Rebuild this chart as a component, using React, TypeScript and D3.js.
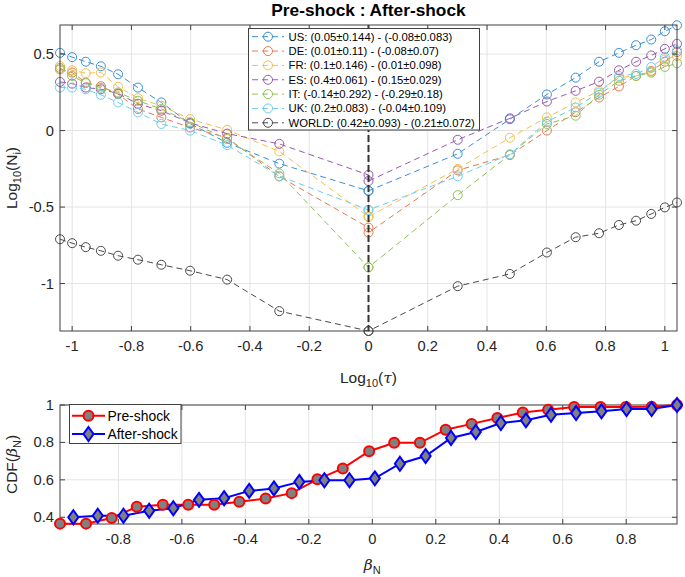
import React from "react";
import * as d3 from "d3";

const TAU = [-1.041, -1, -0.954, -0.903, -0.845, -0.778, -0.699, -0.602, -0.477, -0.301, 0, 0, 0.301, 0.477, 0.602, 0.699, 0.778, 0.845, 0.903, 0.954, 1, 1.041];
const US = [0.508, 0.48, 0.45, 0.42, 0.368, 0.281, 0.184, 0.045, -0.08, -0.216, -0.394, -0.394, -0.152, 0.074, 0.236, 0.346, 0.45, 0.508, 0.558, 0.595, 0.649, 0.688];
const DE = [0.4, 0.379, 0.314, 0.29, 0.238, 0.141, 0.086, 0.02, -0.047, -0.3, -0.634, -0.667, -0.26, -0.16, 0.0, 0.12, 0.216, 0.288, 0.357, 0.39, 0.45, 0.513];
const FR = [0.422, 0.394, 0.375, 0.38, 0.286, 0.212, 0.162, 0.075, 0.005, -0.136, -0.563, -0.563, -0.25, -0.047, 0.086, 0.184, 0.26, 0.346, 0.357, 0.385, 0.465, 0.487];
const ES = [0.318, 0.307, 0.281, 0.27, 0.242, 0.175, 0.13, 0.05, -0.02, -0.087, -0.29, -0.33, -0.06, 0.08, 0.19, 0.26, 0.32, 0.394, 0.45, 0.491, 0.534, 0.567];
const IT = [0.41, 0.357, 0.31, 0.28, 0.249, 0.195, 0.141, 0.054, -0.055, -0.28, -0.894, -0.894, -0.422, -0.158, 0.043, 0.097, 0.234, 0.325, 0.357, 0.379, 0.416, 0.44];
const UK = [0.281, 0.281, 0.27, 0.234, 0.184, 0.119, 0.043, 0.0, -0.095, -0.297, -0.519, -0.519, -0.299, -0.155, 0.058, 0.151, 0.249, 0.357, 0.37, 0.415, 0.48, 0.524];
const WORLD = [-0.71, -0.736, -0.762, -0.786, -0.818, -0.844, -0.877, -0.916, -0.974, -1.18, -1.31, -1.31, -1.017, -0.937, -0.797, -0.697, -0.671, -0.617, -0.589, -0.545, -0.502, -0.47];

const SERIES_NAMES = ["US", "DE", "FR", "ES", "IT", "UK", "WORLD"];
const SERIES_VALUES = [US, DE, FR, ES, IT, UK, WORLD];
const SERIES_LABELS = [
  "US: (0.05\u00b10.144) - (-0.08\u00b10.083)",
  "DE: (0.01\u00b10.11) - (-0.08\u00b10.07)",
  "FR: (0.1\u00b10.146) - (0.01\u00b10.098)",
  "ES: (0.4\u00b10.061) - (0.15\u00b10.029)",
  "IT: (-0.14\u00b10.292) - (-0.29\u00b10.18)",
  "UK: (0.2\u00b10.083) - (-0.04\u00b10.109)",
  "WORLD: (0.42\u00b10.093) - (0.21\u00b10.072)",
];
const SERIES_COLORS = ["#3a8fd6", "#e57a50", "#f3c04e", "#9a5aae", "#8fc154", "#6ccdf2", "#4a4a4a"];

const TOP_XTICKS = [-1, -0.8, -0.6, -0.4, -0.2, 0, 0.2, 0.4, 0.6, 0.8, 1];
const TOP_YTICKS = [-1, -0.5, 0, 0.5];

const PRE_X = [-0.984, -0.902, -0.821, -0.742, -0.66, -0.58, -0.498, -0.419, -0.336, -0.254, -0.173, -0.093, -0.01, 0.069, 0.15, 0.231, 0.313, 0.394, 0.474, 0.554, 0.636, 0.719, 0.799, 0.88, 0.96];
const PRE_Y = [0.366, 0.366, 0.396, 0.456, 0.467, 0.467, 0.467, 0.483, 0.5, 0.529, 0.603, 0.661, 0.753, 0.798, 0.798, 0.868, 0.899, 0.93, 0.96, 0.975, 0.989, 0.989, 0.989, 0.99, 1.0];
const POST_X = [-0.942, -0.865, -0.784, -0.703, -0.627, -0.546, -0.467, -0.388, -0.31, -0.23, -0.151, -0.072, 0.008, 0.087, 0.168, 0.248, 0.326, 0.405, 0.484, 0.563, 0.642, 0.722, 0.801, 0.88, 0.96];
const POST_Y = [0.4, 0.408, 0.408, 0.435, 0.448, 0.493, 0.502, 0.541, 0.554, 0.589, 0.598, 0.598, 0.608, 0.686, 0.727, 0.824, 0.856, 0.904, 0.918, 0.948, 0.957, 0.966, 0.978, 0.978, 1.0];

const BOT_XTICKS = [-0.8, -0.6, -0.4, -0.2, 0, 0.2, 0.4, 0.6, 0.8];
const BOT_YTICKS = [0.4, 0.6, 0.8, 1];

const FONT = "'Liberation Sans', Arial, Helvetica, sans-serif";
const AX = "#404040";
const GRID = "#e4e4e4";

function fmt(v: number) {
  if (v === 0) return "0";
  return String(v);
}

export default function App() {
  const L = 60, R = 677;
  const tTop = 25, tBot = 331;
  const bTop = 405, bBot = 524;

  const xT = d3.scaleLinear().domain([-1.041, 1.041]).range([L, R]);
  const yT = d3.scaleLinear().domain([-1.31, 0.69]).range([tBot, tTop]);
  const xB = d3.scaleLinear().domain([-0.984, 0.96]).range([L, R]);
  const yB = d3.scaleLinear().domain([0.364, 1]).range([bBot, bTop]);

  const lineT = d3.line<number>().x((_, i) => xT(TAU[i])).y((d) => yT(d));
  const preLine = d3.line<number>().x((_, i) => xB(PRE_X[i])).y((d) => yB(d));
  const postLine = d3.line<number>().x((_, i) => xB(POST_X[i])).y((d) => yB(d));

  const tick = 5;
  const fs = 14.7;

  const diamond = (cx: number, cy: number, r: number) =>
    `M${cx},${cy - r}L${cx + r * 0.72},${cy}L${cx},${cy + r}L${cx - r * 0.72},${cy}Z`;

  return (
    <svg width={685} height={577} style={{ position: "absolute", left: 0, top: 0, background: "#fff" }} fontFamily={FONT}>
      <rect x={0} y={0} width={685} height={577} fill="#fff" />
      {/* ===== TOP PANEL ===== */}
      {TOP_XTICKS.map((t) => (
        <line key={"gx" + t} x1={xT(t)} x2={xT(t)} y1={tTop} y2={tBot} stroke={GRID} strokeWidth={1} />
      ))}
      {TOP_YTICKS.map((t) => (
        <line key={"gy" + t} x1={L} x2={R} y1={yT(t)} y2={yT(t)} stroke={GRID} strokeWidth={1} />
      ))}
      {SERIES_VALUES.map((vals, si) => (
        <g key={SERIES_NAMES[si]}>
          <path d={lineT(vals) || ""} fill="none" stroke={SERIES_COLORS[si]} strokeWidth={1} strokeDasharray="6,4" />
          {vals.map((v, i) => (
            <circle key={i} cx={xT(TAU[i])} cy={yT(v)} r={4.5} fill="none" stroke={SERIES_COLORS[si]} strokeWidth={1} />
          ))}
        </g>
      ))}
      <line x1={xT(0)} x2={xT(0)} y1={tTop} y2={tBot} stroke="#333" strokeWidth={2} strokeDasharray="7,3" />
      <rect x={L} y={tTop} width={R - L} height={tBot - tTop} fill="none" stroke={AX} strokeWidth={1} />
      {TOP_XTICKS.map((t) => (
        <g key={"tx" + t}>
          <line x1={xT(t)} x2={xT(t)} y1={tBot} y2={tBot - tick} stroke={AX} />
          <line x1={xT(t)} x2={xT(t)} y1={tTop} y2={tTop + tick} stroke={AX} />
          <text x={xT(t)} y={tBot + 20} fontSize={fs} textAnchor="middle" fill="#262626">{fmt(t)}</text>
        </g>
      ))}
      {TOP_YTICKS.map((t) => (
        <g key={"ty" + t}>
          <line x1={L} x2={L + tick} y1={yT(t)} y2={yT(t)} stroke={AX} />
          <line x1={R} x2={R - tick} y1={yT(t)} y2={yT(t)} stroke={AX} />
          <text x={L - 6} y={yT(t) + 5} fontSize={fs} textAnchor="end" fill="#262626">{fmt(t)}</text>
        </g>
      ))}
      <text x={(L + R) / 2} y={16} fontSize={17.3} fontWeight="bold" textAnchor="middle" fill="#000">Pre-shock : After-shock</text>
      <text x={(L + R) / 2} y={383} fontSize={15.5} textAnchor="middle" fill="#262626">
        Log<tspan fontSize={11} dy={4}>10</tspan><tspan dy={-4}>(</tspan><tspan fontStyle="italic" fontFamily="'DejaVu Serif', serif">τ</tspan>)
      </text>
      <text transform={`translate(17,${(tTop + tBot) / 2}) rotate(-90)`} fontSize={15.5} textAnchor="middle" fill="#262626">
        Log<tspan fontSize={11} dy={4}>10</tspan><tspan dy={-4}>(N</tspan><tspan fontSize={11} dy={4}>i</tspan><tspan dy={-4}>)</tspan>
      </text>
      <g>
        <rect x={248.5} y={28.5} width={231} height={101.5} fill="#fff" stroke={AX} strokeWidth={1} />
        {SERIES_LABELS.map((lab, i) => {
          const cy = 36.7 + i * 14.35;
          return (
            <g key={"lg" + i}>
              <line x1={252} x2={284} y1={cy} y2={cy} stroke={SERIES_COLORS[i]} strokeWidth={1} strokeDasharray="6,4" />
              <circle cx={268} cy={cy} r={4.5} fill="none" stroke={SERIES_COLORS[i]} strokeWidth={1} />
              <text x={288.5} y={cy + 4} fontSize={11.3} fill="#000">{lab}</text>
            </g>
          );
        })}
      </g>

      {/* ===== BOTTOM PANEL ===== */}
      {BOT_XTICKS.map((t) => (
        <line key={"bgx" + t} x1={xB(t)} x2={xB(t)} y1={bTop} y2={bBot} stroke={GRID} strokeWidth={1} />
      ))}
      {BOT_YTICKS.map((t) => (
        <line key={"bgy" + t} x1={L} x2={R} y1={yB(t)} y2={yB(t)} stroke={GRID} strokeWidth={1} />
      ))}
      <rect x={L} y={bTop} width={R - L} height={bBot - bTop} fill="none" stroke={AX} strokeWidth={1} />
      {BOT_XTICKS.map((t) => (
        <g key={"btx" + t}>
          <line x1={xB(t)} x2={xB(t)} y1={bBot} y2={bBot - tick} stroke={AX} />
          <line x1={xB(t)} x2={xB(t)} y1={bTop} y2={bTop + tick} stroke={AX} />
          <text x={xB(t)} y={bBot + 20} fontSize={fs} textAnchor="middle" fill="#262626">{fmt(t)}</text>
        </g>
      ))}
      {BOT_YTICKS.map((t) => (
        <g key={"bty" + t}>
          <line x1={L} x2={L + tick} y1={yB(t)} y2={yB(t)} stroke={AX} />
          <line x1={R} x2={R - tick} y1={yB(t)} y2={yB(t)} stroke={AX} />
          <text x={L - 6} y={yB(t) + 5} fontSize={fs} textAnchor="end" fill="#262626">{fmt(t)}</text>
        </g>
      ))}
      <path d={preLine(PRE_Y) || ""} fill="none" stroke="#ff0000" strokeWidth={2} />
      <path d={postLine(POST_Y) || ""} fill="none" stroke="#0000ff" strokeWidth={2} />
      {PRE_Y.map((v, i) => (
        <circle key={"pm" + i} cx={xB(PRE_X[i])} cy={yB(v)} r={5} fill="#808080" stroke="#ff0000" strokeWidth={2} />
      ))}
      {POST_Y.map((v, i) => (
        <path key={"am" + i} d={diamond(xB(POST_X[i]), yB(v), 7)} fill="#808080" stroke="#0000ff" strokeWidth={2} />
      ))}
      <g>
        <rect x={69.5} y={404.5} width={111.5} height={39} fill="#fff" stroke={AX} strokeWidth={1} />
        <line x1={72} x2={105} y1={415.7} y2={415.7} stroke="#ff0000" strokeWidth={2} />
        <circle cx={88.5} cy={415.7} r={5} fill="#808080" stroke="#ff0000" strokeWidth={2} />
        <text x={107.5} y={420.5} fontSize={13.9} fill="#000">Pre-shock</text>
        <line x1={72} x2={105} y1={434} y2={434} stroke="#0000ff" strokeWidth={2} />
        <path d={diamond(88.5, 434, 7)} fill="#808080" stroke="#0000ff" strokeWidth={2} />
        <text x={107.5} y={438.8} fontSize={13.9} fill="#000">After-shock</text>
      </g>
      <text x={xB(0)} y={570} fontSize={15.5} textAnchor="middle" fill="#262626">
        <tspan fontStyle="italic" fontFamily="'DejaVu Serif', serif">β</tspan><tspan fontSize={11} dy={4}>N</tspan>
      </text>
      <text transform={`translate(17,${(bTop + bBot) / 2}) rotate(-90)`} fontSize={15.5} textAnchor="middle" fill="#262626">
        CDF(<tspan fontStyle="italic" fontFamily="'DejaVu Serif', serif">β</tspan><tspan fontSize={11} dy={4}>N</tspan><tspan dy={-4}>)</tspan>
      </text>
    </svg>
  );
}
